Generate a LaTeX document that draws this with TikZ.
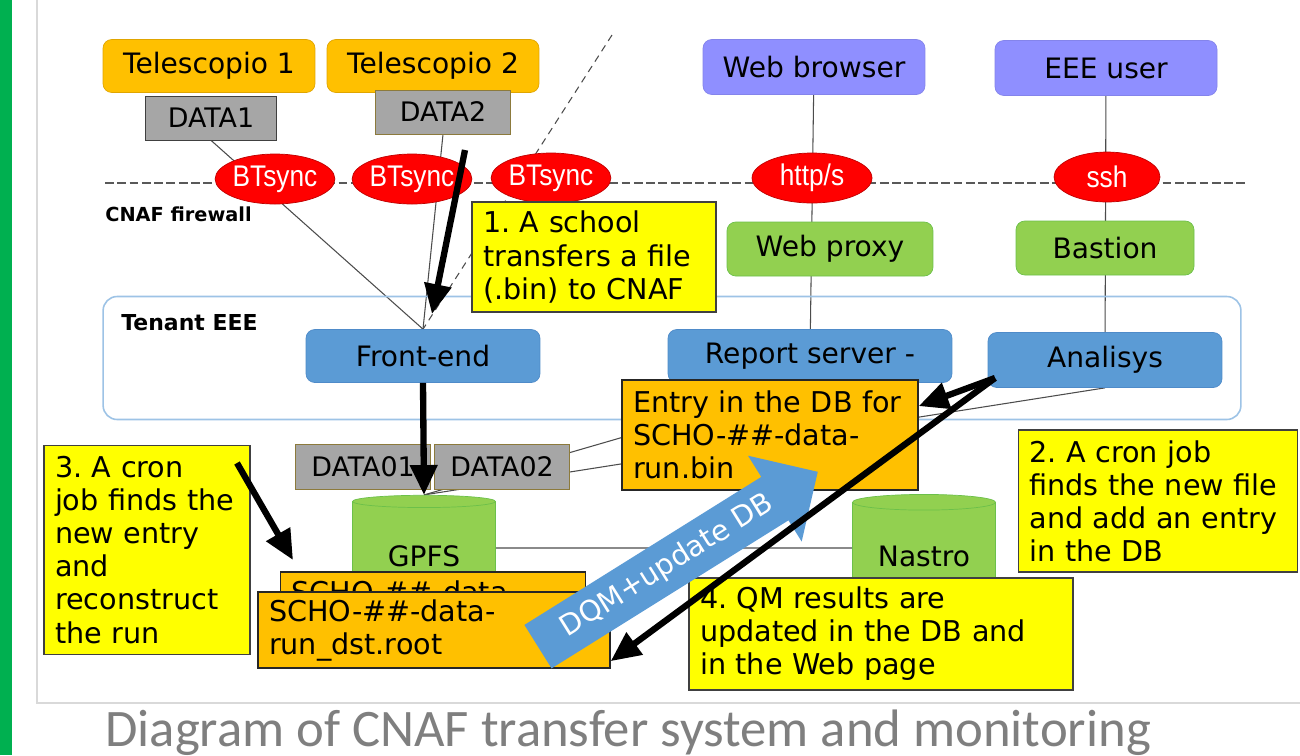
\documentclass[tikz,border=0pt]{standalone}
\usepackage{fontspec}
\setmainfont{DejaVu Sans}
\newfontfamily\fwfont{Liberation Sans}[FakeStretch=0.88]
\newfontfamily\capfont{Carlito}
\usetikzlibrary{arrows.meta, positioning, shapes.geometric, shapes.arrows, backgrounds, calc}
\frenchspacing

\definecolor{teleorange}{HTML}{FFC000}
\definecolor{teleedge}{HTML}{E0A500}
\definecolor{userblue}{HTML}{8F8FFF}
\definecolor{proxygreen}{HTML}{92D050}
\definecolor{proxyedge}{HTML}{6CC04A}
\definecolor{srvblue}{HTML}{5B9BD5}
\definecolor{srvedge}{HTML}{4F8BC9}
\definecolor{fwred}{HTML}{FF0000}
\definecolor{fwedge}{HTML}{C00000}
\definecolor{notey}{HTML}{FFFF00}
\definecolor{filegray}{HTML}{A6A6A6}
\definecolor{datedge}{HTML}{8C7A3C}
\definecolor{tenantedge}{HTML}{9DC3E6}
\definecolor{slidegreen}{HTML}{00B050}
\definecolor{capgray}{HTML}{7F7F7F}

\newcommand{\boxfont}{\fontsize{16}{19}\selectfont}
\newcommand{\notefont}{\fontsize{16.3}{18.8}\selectfont}
\newcommand{\datafont}{\fontsize{15.3}{18}\selectfont}

\begin{document}
\begin{tikzpicture}[x=0.02cm, y=-0.02cm,
    every node/.style={font=\boxfont, align=center, inner sep=0pt},
    tele/.style={rectangle, rounded corners=5pt, fill=teleorange, draw=teleedge, minimum width=4.24cm, minimum height=1.06cm},
    user/.style={rectangle, rounded corners=5pt, fill=userblue, draw=userblue!92!black, minimum width=4.44cm, minimum height=1.1cm},
    datafile/.style={rectangle, fill=filegray, draw=black!75, font=\datafont, minimum width=2.62cm, minimum height=0.88cm},
    fw/.style={ellipse, fill=fwred, draw=fwedge, text=white, font=\fwfont\fontsize{17}{17}\selectfont, minimum width=2.3cm, minimum height=1cm},
    proxy/.style={rectangle, rounded corners=5pt, fill=proxygreen, draw=proxyedge, minimum width=4.12cm, minimum height=1.08cm},
    srv/.style={rectangle, rounded corners=5pt, fill=srvblue, draw=srvedge, minimum width=4.68cm, minimum height=1.06cm},
    disk/.style={cylinder, shape border rotate=90, aspect=0.17, fill=proxygreen, draw=proxyedge, minimum width=2.86cm, minimum height=2.3cm},
    note/.style={rectangle, fill=notey, draw=black!75, line width=0.8pt, align=left, font=\notefont, inner xsep=0.22cm},
    dbfile/.style={note, fill=teleorange, draw=black!85},
    dqm/.style={single arrow, rotate=32, fill=srvblue, text=white, font=\notefont, minimum height=6.6cm, minimum width=2cm, single arrow head extend=0.5cm, inner xsep=4pt, inner ysep=6.5pt},
    link/.style={draw=black!70, line width=0.6pt},
    fwline/.style={draw=black!65, line width=0.8pt, dash pattern=on 5pt off 2pt},
    bigarr/.style={line width=3.6pt, -{Triangle[length=17pt, width=15pt]}}
  ]
    \useasboundingbox (0,0) rectangle (1300,755);
    \begin{scope}[on background layer]
      \fill[white] (0,0) rectangle (1300,755);
      \fill[slidegreen] (0,0) rectangle (12,755);
      \draw[black!15, line width=1pt] (37,0) -- (37,703) -- (1300,703);
    \end{scope}

    % schools and users
    \node[tele] (tele1) at (209,66) {Telescopio 1};
    \node[tele] (tele2) at (433,66) {Telescopio 2};
    \node[datafile] (data1) at (211,118) {DATA1};
    \node[datafile, draw=datedge, minimum width=2.7cm] (data2) at (443,112) {DATA2};
    \node[user] (browser) at (814,67) {Web browser};
    \node[user] (eeeuser) at (1106,68) {EEE user};

    % firewall
    \coordinate (fwleft) at (105,183);
    \coordinate (fwright) at (1248,183);
    \draw[fwline] (fwleft) -- (fwright);
    \node[font=\bfseries\fontsize{11}{11}\selectfont, anchor=west] (fwlabel) at (105,214) {CNAF firewall};
    \node[fw] (bt1) at (275,179) {BTsync};
    \node[fw] (bt2) at (412,179) {BTsync};
    \node[fw, minimum width=2.36cm] (bt3) at (551,178) {BTsync};
    \node[fw, minimum width=2.4cm] (http) at (812,178) {http/s};
    \node[fw, minimum width=2.12cm] (ssh) at (1107,177) {ssh};
    \node[proxy] (webproxy) at (830,249) {Web proxy};
    \node[proxy, minimum width=3.56cm] (bastion) at (1105,248) {Bastion};

    % tenant
    \node[rectangle, rounded corners=8pt, draw=tenantedge, line width=0.9pt, minimum width=22.76cm, minimum height=2.46cm] (tenant) at (672,358) {};
    \node[font=\bfseries\fontsize{12.5}{12.5}\selectfont, anchor=west] (tenantlabel) at (121,323) {Tenant EEE};
    \node[srv] (frontend) at (423,356) {Front-end};
    \node[srv, minimum width=5.68cm] (report) at (810,356) {Report server -};
    \node[srv, minimum height=1.1cm] (analisys) at (1105,360) {Analisys};

    % storage
    \node[disk] (gpfs) at (424,556) {GPFS};
    \node[disk] (nastro) at (924,556) {Nastro};
    \node[datafile, draw=datedge, minimum width=2.7cm, minimum height=0.9cm] (data01) at (363,467) {DATA01};
    \node[datafile, draw=datedge, minimum width=2.7cm, minimum height=0.9cm] (data02) at (502,467) {DATA02};
    \node[dbfile, text width=5.48cm, minimum height=2.2cm] (entry) at (770,435) {Entry in the DB for\\SCHO-\#\#-data-\\run.bin};
    \node[dbfile, text width=5.66cm, minimum height=0.8cm] (dstback) at (433,592) {SCHO-\#\#-data-};
    \node[dbfile, text width=6.6cm, minimum height=1.52cm] (dst) at (434,630) {SCHO-\#\#-data-\\run\_dst.root};

    % steps
    \node[note, text width=4.44cm, minimum height=2.2cm] (step1) at (594,257) {1. A school\\transfers a file\\(.bin) to CNAF};
    \node[note, text width=5.14cm, minimum height=2.84cm] (step2) at (1158,501) {2. A cron job\\finds the new file\\and add an entry\\in the DB};
    \node[note, text width=3.68cm, minimum height=4.18cm] (step3) at (147,550) {3. A cron\\job finds the\\new entry\\and\\reconstruct\\the run};
    \node[note, text width=7.24cm, minimum height=2.24cm] (step4) at (881,634) {4. QM results are\\updated in the DB and\\in the Web page};

    \node[dqm] (dqmarrow) at (667,566) {DQM+update DB};

    % connections
    \coordinate (lanend) at (612,35);
    \begin{scope}[on background layer]
      \draw[link] (data1.south) -- (frontend.north);
      \draw[link] (data2.south) -- (frontend.north);
      \draw[link, dash pattern=on 4pt off 3pt] (lanend) -- (frontend.north);
      \draw[link] (browser) -- (report);
      \draw[link] (eeeuser) -- (analisys);
      \draw[link] (gpfs.north) -- (report.south);
      \draw[link] (gpfs.north) -- (analisys.south);
      \draw[link] ([yshift=0.16cm]gpfs.east) -- ([yshift=0.16cm]nastro.west);
    \end{scope}

    % data flow
    \coordinate (a1from) at (465,150);
    \coordinate (a1to) at (432,314);
    \coordinate (a3from) at (237,463);
    \coordinate (a3to) at (293,560);
    \coordinate (anfoot) at (995,378);
    \draw[bigarr] (a1from) -- (a1to);
    \draw[bigarr] (frontend.south) -- (gpfs.north);
    \draw[bigarr] (a3from) -- (a3to);
    \draw[bigarr] (anfoot) -- (entry.11);
    \draw[bigarr] (anfoot) -- (dst.-10);

    \node[font=\capfont\fontsize{30}{30}\selectfont, text=capgray, anchor=base west] (caption) at (105,746) {Diagram of CNAF transfer system and monitoring};
  \end{tikzpicture}
\end{document}
